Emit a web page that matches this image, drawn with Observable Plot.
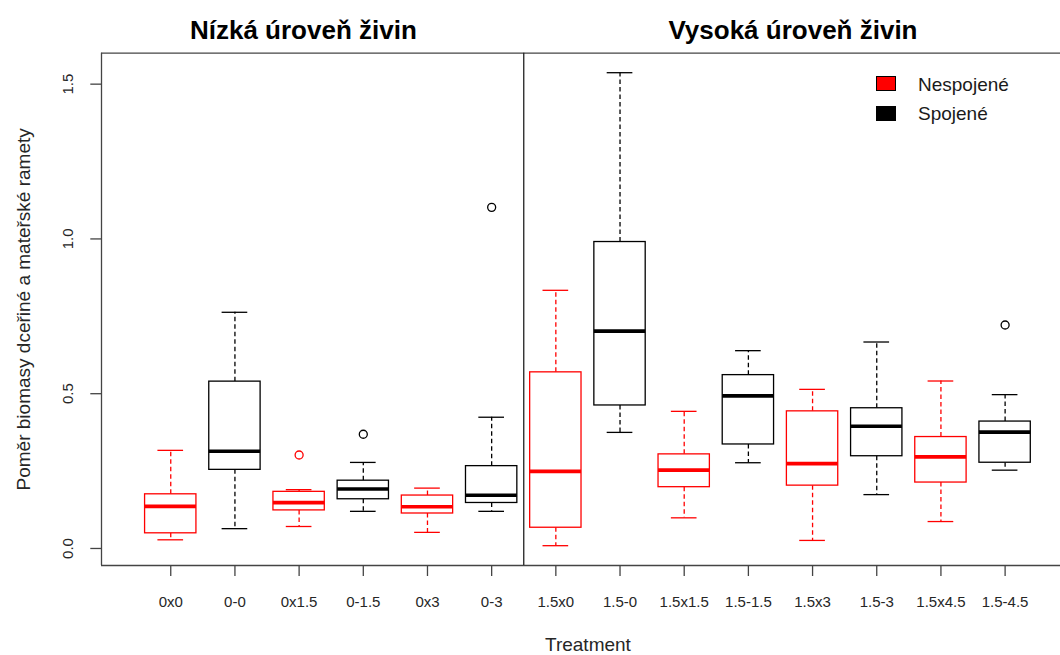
<!DOCTYPE html>
<html>
<head>
<meta charset="utf-8">
<script src="https://cdn.jsdelivr.net/npm/d3@7"></script>
<script src="https://cdn.jsdelivr.net/npm/@observablehq/plot@0.6"></script>
<style>
  html, body { margin: 0; padding: 0; background: #fff; }
  #chart { position: relative; width: 1060px; height: 655px; overflow: hidden;
           font-family: "Liberation Sans", Arial, sans-serif; }
  #chart svg { position: absolute; left: 0; top: 0; }
  .panel-title { position: absolute; transform: translate(-50%, -50%); line-height: 1;
                 font-size: 26px; font-weight: bold; color: #000; white-space: nowrap; }
  .legend-key { position: absolute; width: 20px; height: 15px; box-sizing: border-box;
                border: 1px solid #000; }
  .legend-label { position: absolute; transform: translateY(-50%); line-height: 1;
                  font-size: 19px; color: #1a1a1a; white-space: nowrap; }
</style>
</head>
<body>
<div id="chart"></div>
<script>
// Treatments in plotting order (low nutrient level first, then high)
const treatments = ["0x0", "0-0", "0x1.5", "0-1.5", "0x3", "0-3",
                    "1.5x0", "1.5-0", "1.5x1.5", "1.5-1.5", "1.5x3", "1.5-3", "1.5x4.5", "1.5-4.5"];
const connection = ["Nespojené", "Spojené", "Nespojené", "Spojené", "Nespojené", "Spojené",
                    "Nespojené", "Spojené", "Nespojené", "Spojené", "Nespojené", "Spojené", "Nespojené", "Spojené"];
const lowLevelCount = 6;

// Box-plot statistics per treatment
const whiskerLow  = [0.028, 0.064, 0.071, 0.120, 0.052, 0.120, 0.009, 0.375, 0.099, 0.277, 0.026, 0.174, 0.087, 0.253];
const quartile1   = [0.049, 0.254, 0.123, 0.159, 0.113, 0.147, 0.067, 0.462, 0.198, 0.336, 0.203, 0.298, 0.213, 0.277];
const medians     = [0.136, 0.314, 0.148, 0.192, 0.135, 0.172, 0.249, 0.702, 0.253, 0.493, 0.274, 0.395, 0.296, 0.376];
const quartile3   = [0.175, 0.539, 0.183, 0.219, 0.171, 0.266, 0.569, 0.990, 0.304, 0.560, 0.443, 0.453, 0.360, 0.410];
const whiskerHigh = [0.317, 0.763, 0.190, 0.278, 0.195, 0.424, 0.834, 1.537, 0.443, 0.639, 0.514, 0.667, 0.541, 0.497];

// Outlying observations
const outlierTreatment = ["0x1.5", "0-1.5", "0-3", "1.5-4.5"];
const outlierValue     = [0.302, 0.369, 1.102, 0.722];

const yTicks = [0, 0.5, 1.0, 1.5];
const panelTitles = ["Nízká úroveň živin", "Vysoká úroveň živin"];
const legendLabels = ["Nespojené", "Spojené"];
const legendColors = ["#ff0000", "#000000"];
const yLabel = "Poměr biomasy dceřiné a mateřské ramety";
const xLabel = "Treatment";

const boxes = treatments.map((t, i) => ({
  treatment: t, pos: i + 1, group: connection[i],
  lo: whiskerLow[i], q1: quartile1[i], med: medians[i], q3: quartile3[i], hi: whiskerHigh[i]
}));
const outliers = outlierTreatment.map((t, i) => {
  const k = treatments.indexOf(t);
  return {pos: k + 1, value: outlierValue[i], group: connection[k]};
});
const positions = boxes.map(d => d.pos);

const boxHalf = 0.4, stapleHalf = 0.2;
const xDomain = [-0.079, 14.863];
const yDomain = [-0.055, 1.600];
const divider = lowLevelCount + 0.5;
const lw = 1.3;
const axisText = "#262626";

const chart = Plot.plot({
  width: 1060,
  height: 655,
  marginLeft: 101,
  marginRight: 0,
  marginTop: 52.7,
  marginBottom: 90,
  x: {type: "linear", domain: xDomain},
  y: {type: "linear", domain: yDomain},
  color: {domain: legendLabels, range: legendColors},
  style: {fontFamily: "'Liberation Sans', Arial, sans-serif", background: "transparent", overflow: "visible"},
  marks: [
    // plot frame (right side runs past the page edge) and panel divider
    Plot.ruleY([yDomain[0], yDomain[1]], {stroke: "#444", strokeWidth: lw}),
    Plot.ruleX([xDomain[0]], {stroke: "#444", strokeWidth: lw}),
    Plot.ruleX([divider], {stroke: "#222", strokeWidth: lw}),

    // axes
    Plot.axisY(yTicks, {tickSize: 10.7, fill: "none", stroke: "#444", strokeWidth: lw, label: null}),
    Plot.text(yTicks, {y: d => d, text: d => d.toFixed(1), frameAnchor: "left", dx: -33,
                       rotate: -90, textAnchor: "middle", lineAnchor: "middle",
                       fontSize: 15, fill: axisText}),
    Plot.axisX(positions, {tickSize: 11, fill: "none", stroke: "#444", strokeWidth: lw, label: null}),
    Plot.text(boxes, {x: "pos", text: "treatment", frameAnchor: "bottom", dy: 36.6,
                      textAnchor: "middle", lineAnchor: "middle", fontSize: 15, fill: axisText}),

    // whiskers and staples
    Plot.ruleX(boxes, {x: "pos", y1: "q3", y2: "hi", stroke: "group", strokeWidth: lw, strokeDasharray: "4.5,3"}),
    Plot.ruleX(boxes, {x: "pos", y1: "q1", y2: "lo", stroke: "group", strokeWidth: lw, strokeDasharray: "4.5,3"}),
    Plot.ruleY(boxes, {y: "hi", x1: d => d.pos - stapleHalf, x2: d => d.pos + stapleHalf, stroke: "group", strokeWidth: lw}),
    Plot.ruleY(boxes, {y: "lo", x1: d => d.pos - stapleHalf, x2: d => d.pos + stapleHalf, stroke: "group", strokeWidth: lw}),

    // boxes and medians
    Plot.rect(boxes, {x1: d => d.pos - boxHalf, x2: d => d.pos + boxHalf, y1: "q1", y2: "q3",
                      fill: "white", stroke: "group", strokeWidth: lw}),
    Plot.ruleY(boxes, {y: "med", x1: d => d.pos - boxHalf, x2: d => d.pos + boxHalf,
                       stroke: "group", strokeWidth: 3.6}),

    // outliers
    Plot.dot(outliers, {x: "pos", y: "value", r: 4, stroke: "group", strokeWidth: lw, fill: "none"}),

    // axis titles
    Plot.text([yLabel], {text: d => d, frameAnchor: "left", dx: -78, rotate: -90,
                         textAnchor: "middle", lineAnchor: "middle", fontSize: 19, fill: axisText}),
    Plot.text([xLabel], {text: d => d, x: () => (1 + treatments.length) / 2, frameAnchor: "bottom",
                         dy: 79.5, textAnchor: "middle", lineAnchor: "middle", fontSize: 19, fill: axisText})
  ]
});

const root = document.getElementById("chart");
root.appendChild(chart);

// panel titles
const titleCenters = [[303.4, 29.5], [793, 29.5]];
panelTitles.forEach((t, i) => {
  const el = document.createElement("div");
  el.className = "panel-title";
  el.textContent = t;
  el.style.left = titleCenters[i][0] + "px";
  el.style.top = titleCenters[i][1] + "px";
  root.appendChild(el);
});

// legend
const legendRows = [83.7, 113.3];
legendLabels.forEach((label, i) => {
  const key = document.createElement("div");
  key.className = "legend-key";
  key.style.left = "876px";
  key.style.top = (legendRows[i] - 7.5) + "px";
  key.style.background = legendColors[i];
  root.appendChild(key);
  const txt = document.createElement("div");
  txt.className = "legend-label";
  txt.textContent = label;
  txt.style.left = "918px";
  txt.style.top = legendRows[i] + "px";
  root.appendChild(txt);
});
</script>
</body>
</html>
